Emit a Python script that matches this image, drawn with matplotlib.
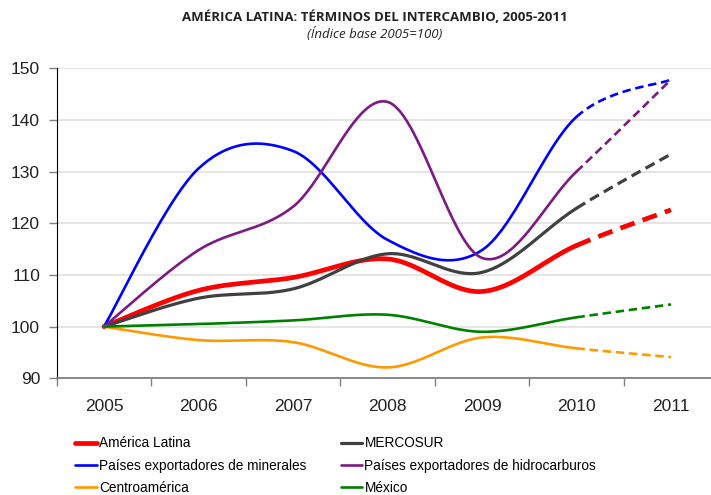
import numpy as np
import matplotlib
matplotlib.use("Agg")
import matplotlib.pyplot as plt
from matplotlib.ticker import FixedLocator

years = ["2005", "2006", "2007", "2008", "2009", "2010", "2011"]
america_latina = [100, 107.0, 109.5, 113.1, 106.8, 115.7, 122.6]
mercosur = [100, 105.5, 107.3, 114.1, 110.5, 122.9, 133.4]
minerales = [100, 130.6, 134.0, 116.8, 114.8, 140.6, 147.8]
hidrocarburos = [100, 114.8, 123.2, 143.5, 113.3, 130.0, 147.8]
centroamerica = [100, 97.4, 97.0, 92.1, 97.9, 95.8, 94.1]
mexico = [100, 100.5, 101.2, 102.3, 99.0, 101.8, 104.3]

series = [
    ("América Latina", america_latina, "#ff0000", 3.4),
    ("MERCOSUR", mercosur, "#404040", 2.3),
    ("Países exportadores de minerales", minerales, "#0000ff", 1.9),
    ("Países exportadores de hidrocarburos", hidrocarburos, "#7b1a82", 1.9),
    ("Centroamérica", centroamerica, "#ff9900", 1.9),
    ("México", mexico, "#008000", 1.9),
]

XS = 94.5  # px per category
YS = 5.167  # px per unit


def smooth_segments(x, y, n=40):
    # Excel-like Catmull-Rom smoothing in screen space
    P = np.column_stack([np.asarray(x, float) * XS, np.asarray(y, float) * YS])
    segs = []
    for i in range(len(P) - 1):
        p0 = P[i - 1] if i > 0 else P[i]
        p1 = P[i]
        p2 = P[i + 1]
        p3 = P[i + 2] if i + 2 < len(P) else P[i + 1]
        c1 = p1 + (p2 - p0) / 6.0
        c2 = p2 - (p3 - p1) / 6.0
        t = np.linspace(0, 1, n)[:, None]
        b = ((1 - t) ** 3) * p1 + 3 * ((1 - t) ** 2) * t * c1 + 3 * (1 - t) * t ** 2 * c2 + t ** 3 * p2
        segs.append((b[:, 0] / XS, b[:, 1] / YS))
    return segs


fig = plt.figure(figsize=(7.11, 4.95), dpi=100)
ax = fig.add_axes([56.7 / 711, 1 - 378.3 / 495, (711 - 56.7) / 711, (378.3 - 68.3) / 495])

xpos = np.arange(len(years))
handles = []
for name, vals, col, lw in series:
    segs = smooth_segments(xpos, vals)
    sx = np.concatenate([s[0] for s in segs[:-1]])
    sy = np.concatenate([s[1] for s in segs[:-1]])
    h, = ax.plot(sx, sy, color=col, lw=lw, solid_capstyle="round", zorder=3)
    ax.plot(segs[-1][0], segs[-1][1], color=col, lw=lw, ls=(0, (3.2, 1.8)), zorder=3)
    handles.append(h)

ax.set_ylim(90, 150)
ax.set_xlim(-0.5, -0.5 + (711 - 56.7) / XS)
ax.set_yticks(np.arange(90, 151, 10))
ax.yaxis.grid(True, color="#e0e0e0", lw=1.2)
ax.set_axisbelow(True)
ax.set_xticks(xpos)
ax.set_xticklabels(years)
ax.xaxis.set_minor_locator(FixedLocator(np.arange(-0.5, 7, 1.0)))
ax.tick_params(axis="x", which="major", length=0, pad=15, labelsize=12.5, labelcolor="#222222")
ax.tick_params(axis="x", which="minor", length=6, color="#808080", width=1)
ax.tick_params(axis="y", length=6, color="#808080", width=1, labelsize=12.5, labelcolor="#222222", pad=6)
for lab in ax.get_xticklabels() + ax.get_yticklabels():
    lab.set_family("Liberation Sans")
ax.spines["top"].set_visible(False)
ax.spines["right"].set_visible(False)
ax.spines["left"].set_color("black")
ax.spines["bottom"].set_color("#808080")
ax.spines["bottom"].set_linewidth(1.3)

fig.text(375 / 711, 1 - 17 / 495, "AMÉRICA LATINA: TÉRMINOS DEL INTERCAMBIO, 2005-2011",
         ha="center", va="center", fontsize=9.5, fontweight="bold", family="Open Sans", color="#222222")
fig.text(375 / 711, 1 - 34 / 495, "(Índice base 2005=100)",
         ha="center", va="center", fontsize=9.5, style="italic", family="Open Sans", color="#222222")

order = [0, 2, 4, 1, 3, 5]
leg = fig.legend([handles[i] for i in order], [series[i][0] for i in order],
                 ncol=2, loc="upper left", bbox_to_anchor=(70 / 711, 1 - 431 / 495),
                 frameon=False, handlelength=1.6, handletextpad=0.15, columnspacing=2.5,
                 labelspacing=0.6, prop={"family": "Liberation Sans", "size": 9.8}, borderaxespad=0)

fig.savefig("out.png", dpi=100)
